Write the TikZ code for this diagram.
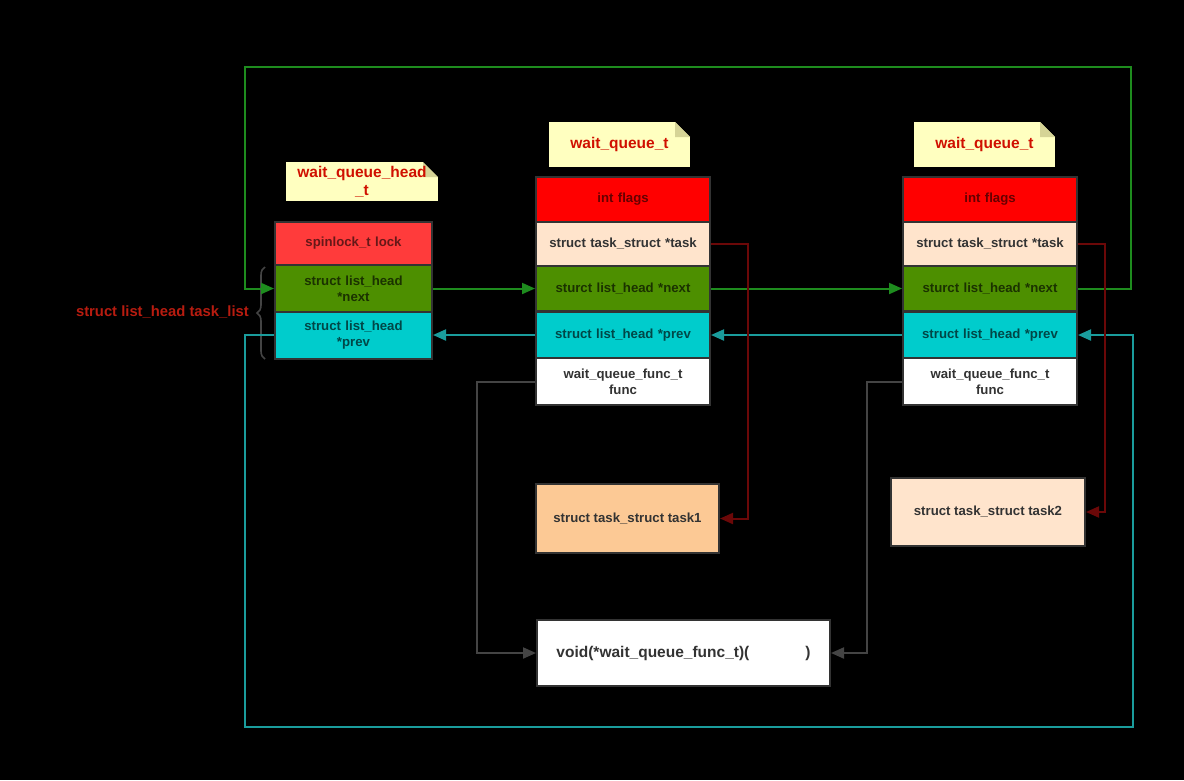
\documentclass[tikz,border=0pt]{standalone}
\usepackage{fontspec}
\setmainfont{Liberation Sans}
\usetikzlibrary{arrows.meta,decorations.pathreplacing}
\definecolor{cellborder}{HTML}{333333}
\definecolor{celltext}{HTML}{333333}
\definecolor{lockfill}{HTML}{FF3B3B}
\definecolor{flagfill}{HTML}{FF0000}
\definecolor{nextfill}{HTML}{4D8F00}
\definecolor{prevfill}{HTML}{00CCCC}
\definecolor{taskfill}{HTML}{FFE4CC}
\definecolor{task1fill}{HTML}{FCC995}
\definecolor{notefill}{HTML}{FFFFC0}
\definecolor{notefold}{HTML}{D6D496}
\definecolor{notetext}{HTML}{D01000}
\definecolor{labelred}{HTML}{B81C10}
\definecolor{greenline}{HTML}{1E8C1E}
\definecolor{cyanline}{HTML}{1A9C9C}
\definecolor{redline}{HTML}{6B0808}
\definecolor{grayline}{HTML}{444444}
\tikzset{
  cell/.style={draw=cellborder, line width=2pt, rectangle, align=center,
    text=celltext, font=\fontsize{13.2}{16}\selectfont\bfseries, inner sep=2pt},
  headcell/.style={cell, minimum width=157pt, text width=145pt},
  wqcell/.style={cell, minimum width=174pt, text width=168pt},
  notebox/.style={rectangle, fill=notefill, align=center, text=notetext,
    font=\fontsize{15.5}{18}\selectfont\bfseries, inner sep=0pt,
    path picture={
      \fill[black] ([xshift=-15pt]path picture bounding box.north east) -- (path picture bounding box.north east) -- ([yshift=-15pt]path picture bounding box.north east) -- cycle;
      \fill[notefold] ([xshift=-15pt]path picture bounding box.north east) -- ([xshift=-15pt,yshift=-15pt]path picture bounding box.north east) -- ([yshift=-15pt]path picture bounding box.north east) -- cycle;
    }},
  conn/.style={line width=2pt, -{Triangle[length=13pt,width=11pt]}},
}
\begin{document}
\begin{tikzpicture}[x=1pt,y=-1pt]
\fill[black] (0,0) rectangle (1184,780);
\useasboundingbox (0,0) rectangle (1184,780);

% notes
\node[notebox, minimum width=152pt, minimum height=39pt, text width=146pt] (nhead) at (362,181.5) {wait\_queue\_head\\\relax\_t};
\node[notebox, minimum width=141pt, minimum height=45pt] (nwq1) at (619.5,144.5) {wait\_queue\_t};
\node[notebox, minimum width=141pt, minimum height=45pt] (nwq2) at (984.5,144.5) {wait\_queue\_t};

% head struct
\node[headcell, fill=lockfill, minimum height=43pt, text=lockfill!40!black] (hlock) at (353.5,243.5) {spinlock\_t lock};
\node[headcell, fill=nextfill, minimum height=47pt, text=nextfill!35!black] (hnext) at (353.5,288.5) {struct list\_head\\\relax*next};
\node[headcell, fill=prevfill, minimum height=47pt, text=prevfill!35!black] (hprev) at (353.5,335) {struct list\_head\\\relax*prev};

% wait_queue_t 1
\node[wqcell, fill=flagfill, minimum height=45pt, text=flagfill!40!black] (w1flags) at (623,199.5) {int flags};
\node[wqcell, fill=taskfill, minimum height=44pt] (w1task) at (623,244) {struct task\_struct *task};
\node[wqcell, fill=nextfill, minimum height=45pt, text=nextfill!35!black] (w1next) at (623,288.5) {sturct list\_head *next};
\node[wqcell, fill=prevfill, minimum height=47pt, text=prevfill!35!black] (w1prev) at (623,335) {struct list\_head *prev};
\node[wqcell, fill=white, minimum height=47pt] (w1func) at (623,381.5) {wait\_queue\_func\_t\\func};

% wait_queue_t 2
\node[wqcell, fill=flagfill, minimum height=45pt, text=flagfill!40!black] (w2flags) at (990,199.5) {int flags};
\node[wqcell, fill=taskfill, minimum height=44pt] (w2task) at (990,244) {struct task\_struct *task};
\node[wqcell, fill=nextfill, minimum height=45pt, text=nextfill!35!black] (w2next) at (990,288.5) {sturct list\_head *next};
\node[wqcell, fill=prevfill, minimum height=47pt, text=prevfill!35!black] (w2prev) at (990,335) {struct list\_head *prev};
\node[wqcell, fill=white, minimum height=47pt] (w2func) at (990,381.5) {wait\_queue\_func\_t\\func};

% tasks and function
\node[cell, fill=task1fill, minimum width=183pt, minimum height=69pt] (task1) at (627.5,518.5) {struct task\_struct task1};
\node[cell, fill=taskfill, minimum width=194pt, minimum height=68pt] (task2) at (988,512) {struct task\_struct task2};
\node[cell, fill=white, minimum width=293pt, minimum height=66pt, font=\fontsize{15.5}{18}\selectfont\bfseries] (fbox) at (683.5,653) {void(*wait\_queue\_func\_t)(\hspace{56pt})};

% brace and label
\coordinate (btop) at (265,267);
\coordinate (bbot) at (265,359);
\draw[grayline, line width=1.6pt, decorate, decoration={brace, amplitude=8pt}] (bbot) -- (btop);
\node[anchor=east, text=labelred, font=\fontsize{14.8}{17}\selectfont\bfseries, inner sep=0pt] (tasklist) at (249,312) {struct list\_head task\_list};

% green next chain
\coordinate (gtr) at (1131,67);
\coordinate (gtl) at (245,67);
\draw[conn, greenline] (hnext.east) -- (w1next.west);
\draw[conn, greenline] (w1next.east) -- (w2next.west);
\draw[conn, greenline] (w2next.east) -| (gtr) -- (gtl) |- (hnext.west);

% cyan prev chain
\coordinate (cbl) at (245,727);
\coordinate (cbr) at (1133,727);
\draw[conn, cyanline] (w2prev.west) -- (w1prev.east);
\draw[conn, cyanline] (w1prev.west) -- (hprev.east);
\draw[conn, cyanline] (hprev.west) -| (cbl) -- (cbr) |- (w2prev.east);

% task pointers
\coordinate (r1) at (748,244);
\coordinate (r2) at (1105,244);
\draw[conn, redline] (w1task.east) -- (r1) |- (task1.east);
\draw[conn, redline] (w2task.east) -- (r2) |- (task2.east);

% func pointers
\coordinate (g1) at (477,381.5);
\coordinate (g2) at (867,381.5);
\draw[conn, grayline] (w1func.west) -- (g1) |- (fbox.west);
\draw[conn, grayline] (w2func.west) -- (g2) |- (fbox.east);
\end{tikzpicture}
\end{document}
